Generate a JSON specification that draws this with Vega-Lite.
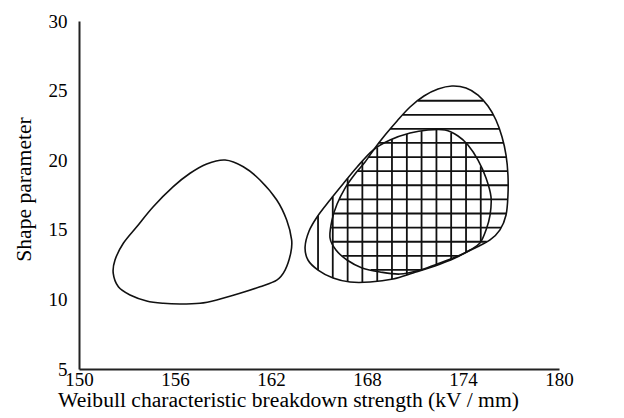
{
  "$schema": "https://vega.github.io/schema/vega-lite/v6.json",
  "width": 480,
  "height": 348,
  "autosize": "none",
  "padding": {"left": 79, "top": 21, "right": 65, "bottom": 49},
  "background": "white",
  "config": {"view": {"stroke": null}},
  "datasets": {
    "contours": [
      {"c": "L", "i": 1, "x": 159.13, "y": 20.01},
      {"c": "L", "i": 2, "x": 160.27, "y": 19.53},
      {"c": "L", "i": 3, "x": 161.31, "y": 18.58},
      {"c": "L", "i": 4, "x": 162.36, "y": 17.14},
      {"c": "L", "i": 5, "x": 162.98, "y": 15.70},
      {"c": "L", "i": 6, "x": 163.29, "y": 14.27},
      {"c": "L", "i": 7, "x": 163.23, "y": 13.31},
      {"c": "L", "i": 8, "x": 162.88, "y": 12.11},
      {"c": "L", "i": 9, "x": 162.36, "y": 11.39},
      {"c": "L", "i": 10, "x": 161.31, "y": 10.91},
      {"c": "L", "i": 11, "x": 160.06, "y": 10.44},
      {"c": "L", "i": 12, "x": 158.61, "y": 9.96},
      {"c": "L", "i": 13, "x": 157.56, "y": 9.72},
      {"c": "L", "i": 14, "x": 156.31, "y": 9.67},
      {"c": "L", "i": 15, "x": 155.27, "y": 9.72},
      {"c": "L", "i": 16, "x": 154.23, "y": 9.89},
      {"c": "L", "i": 17, "x": 153.19, "y": 10.32},
      {"c": "L", "i": 18, "x": 152.46, "y": 10.91},
      {"c": "L", "i": 19, "x": 152.14, "y": 11.87},
      {"c": "L", "i": 20, "x": 152.25, "y": 12.83},
      {"c": "L", "i": 21, "x": 152.77, "y": 14.03},
      {"c": "L", "i": 22, "x": 153.61, "y": 15.22},
      {"c": "L", "i": 23, "x": 154.64, "y": 16.66},
      {"c": "L", "i": 24, "x": 155.89, "y": 18.10},
      {"c": "L", "i": 25, "x": 156.94, "y": 19.06},
      {"c": "L", "i": 26, "x": 157.98, "y": 19.73},
      {"c": "V", "i": 1, "x": 164.13, "y": 13.76},
      {"c": "V", "i": 2, "x": 164.38, "y": 14.91},
      {"c": "V", "i": 3, "x": 164.88, "y": 15.92},
      {"c": "V", "i": 4, "x": 165.69, "y": 17.14},
      {"c": "V", "i": 5, "x": 166.5, "y": 18.29},
      {"c": "V", "i": 6, "x": 167.38, "y": 19.51},
      {"c": "V", "i": 7, "x": 168.38, "y": 20.73},
      {"c": "V", "i": 8, "x": 169.44, "y": 21.45},
      {"c": "V", "i": 9, "x": 170.69, "y": 21.95},
      {"c": "V", "i": 10, "x": 171.81, "y": 22.17},
      {"c": "V", "i": 11, "x": 172.88, "y": 22.17},
      {"c": "V", "i": 12, "x": 173.69, "y": 21.74},
      {"c": "V", "i": 13, "x": 174.31, "y": 21.09},
      {"c": "V", "i": 14, "x": 174.94, "y": 20.01},
      {"c": "V", "i": 15, "x": 175.44, "y": 18.72},
      {"c": "V", "i": 16, "x": 175.75, "y": 17.36},
      {"c": "V", "i": 17, "x": 175.69, "y": 16.06},
      {"c": "V", "i": 18, "x": 175.44, "y": 14.99},
      {"c": "V", "i": 19, "x": 175.06, "y": 14.05},
      {"c": "V", "i": 20, "x": 174.44, "y": 13.55},
      {"c": "V", "i": 21, "x": 173.5, "y": 12.97},
      {"c": "V", "i": 22, "x": 172.25, "y": 12.40},
      {"c": "V", "i": 23, "x": 170.88, "y": 11.90},
      {"c": "V", "i": 24, "x": 169.63, "y": 11.47},
      {"c": "V", "i": 25, "x": 168.19, "y": 11.25},
      {"c": "V", "i": 26, "x": 166.94, "y": 11.25},
      {"c": "V", "i": 27, "x": 165.88, "y": 11.54},
      {"c": "V", "i": 28, "x": 164.94, "y": 12.11},
      {"c": "V", "i": 29, "x": 164.31, "y": 12.83},
      {"c": "H", "i": 1, "x": 165.69, "y": 14.41},
      {"c": "H", "i": 2, "x": 165.81, "y": 15.70},
      {"c": "H", "i": 3, "x": 166.13, "y": 16.85},
      {"c": "H", "i": 4, "x": 166.63, "y": 18.00},
      {"c": "H", "i": 5, "x": 167.25, "y": 19.01},
      {"c": "H", "i": 6, "x": 167.88, "y": 19.87},
      {"c": "H", "i": 7, "x": 168.5, "y": 20.88},
      {"c": "H", "i": 8, "x": 169.13, "y": 21.81},
      {"c": "H", "i": 9, "x": 169.88, "y": 22.82},
      {"c": "H", "i": 10, "x": 170.69, "y": 23.82},
      {"c": "H", "i": 11, "x": 171.56, "y": 24.61},
      {"c": "H", "i": 12, "x": 172.44, "y": 25.11},
      {"c": "H", "i": 13, "x": 173.31, "y": 25.33},
      {"c": "H", "i": 14, "x": 174.19, "y": 25.19},
      {"c": "H", "i": 15, "x": 174.94, "y": 24.68},
      {"c": "H", "i": 16, "x": 175.56, "y": 23.89},
      {"c": "H", "i": 17, "x": 176.06, "y": 22.89},
      {"c": "H", "i": 18, "x": 176.44, "y": 21.67},
      {"c": "H", "i": 19, "x": 176.69, "y": 20.37},
      {"c": "H", "i": 20, "x": 176.81, "y": 18.94},
      {"c": "H", "i": 21, "x": 176.81, "y": 17.50},
      {"c": "H", "i": 22, "x": 176.69, "y": 16.06},
      {"c": "H", "i": 23, "x": 176.31, "y": 14.99},
      {"c": "H", "i": 24, "x": 175.69, "y": 14.27},
      {"c": "H", "i": 25, "x": 174.75, "y": 13.69},
      {"c": "H", "i": 26, "x": 173.69, "y": 13.12},
      {"c": "H", "i": 27, "x": 172.56, "y": 12.61},
      {"c": "H", "i": 28, "x": 171.31, "y": 12.11},
      {"c": "H", "i": 29, "x": 170.06, "y": 11.82},
      {"c": "H", "i": 30, "x": 168.81, "y": 11.97},
      {"c": "H", "i": 31, "x": 167.69, "y": 12.26},
      {"c": "H", "i": 32, "x": 166.75, "y": 12.83},
      {"c": "H", "i": 33, "x": 166.06, "y": 13.55}
    ],
    "hhatch": [
      {"y": 24.27, "x1": 171.19, "x2": 175.26},
      {"y": 23.26, "x1": 170.24, "x2": 175.88},
      {"y": 22.25, "x1": 169.45, "x2": 176.26},
      {"y": 21.24, "x1": 168.74, "x2": 176.52},
      {"y": 20.22, "x1": 168.09, "x2": 176.70},
      {"y": 19.21, "x1": 167.39, "x2": 176.79},
      {"y": 18.20, "x1": 166.74, "x2": 176.81},
      {"y": 17.18, "x1": 166.27, "x2": 176.79},
      {"y": 16.17, "x1": 165.94, "x2": 176.70},
      {"y": 15.16, "x1": 165.76, "x2": 176.38},
      {"y": 14.14, "x1": 165.81, "x2": 175.49},
      {"y": 13.13, "x1": 166.46, "x2": 173.71},
      {"y": 12.12, "x1": 168.23, "x2": 171.33}
    ],
    "vhatch": [
      {"x": 164.94, "y1": 16.01, "y2": 12.11},
      {"x": 165.86, "y1": 17.39, "y2": 11.54},
      {"x": 166.79, "y1": 18.69, "y2": 11.29},
      {"x": 167.71, "y1": 19.92, "y2": 11.25},
      {"x": 168.64, "y1": 20.91, "y2": 11.31},
      {"x": 169.56, "y1": 21.50, "y2": 11.46},
      {"x": 170.49, "y1": 21.88, "y2": 11.76},
      {"x": 171.41, "y1": 22.09, "y2": 12.09},
      {"x": 172.34, "y1": 22.17, "y2": 12.44},
      {"x": 173.26, "y1": 21.96, "y2": 12.87},
      {"x": 174.19, "y1": 21.22, "y2": 13.40},
      {"x": 175.11, "y1": 19.56, "y2": 14.17}
    ]
  },
  "layer": [
    {
      "data": {"name": "hhatch"},
      "mark": {"type": "rule", "color": "#111", "strokeWidth": 1.8},
      "encoding": {
        "y": {"field": "y", "type": "quantitative", "scale": {"domain": [5, 30], "nice": false, "zero": false}},
        "x": {"field": "x1", "type": "quantitative", "scale": {"domain": [150, 180], "nice": false, "zero": false}},
        "x2": {"field": "x2"}
      }
    },
    {
      "data": {"name": "vhatch"},
      "mark": {"type": "rule", "color": "#111", "strokeWidth": 1.8},
      "encoding": {
        "x": {"field": "x", "type": "quantitative"},
        "y": {"field": "y1", "type": "quantitative"},
        "y2": {"field": "y2"}
      }
    },
    {
      "data": {"name": "contours"},
      "mark": {"type": "line", "color": "#111", "strokeWidth": 1.6, "interpolate": "cardinal-closed"},
      "encoding": {
        "x": {
          "field": "x", "type": "quantitative",
          "axis": {
            "values": [150, 156, 162, 168, 174, 180],
            "ticks": false, "grid": false,
            "domainColor": "#222", "domainWidth": 2,
            "labelFont": "Liberation Serif", "labelFontSize": 19, "labelColor": "#000",
            "labelPadding": 1, "labelDx": -3, "labelFlush": false,
            "title": "Weibull characteristic breakdown strength (kV / mm)",
            "titleFont": "Liberation Serif", "titleFontSize": 21.6, "titleFontWeight": "normal", "titleColor": "#000",
            "titleX": 209, "titleY": 37, "titleAlign": "center", "titleBaseline": "alphabetic"
          }
        },
        "y": {
          "field": "y", "type": "quantitative",
          "axis": {
            "values": [5, 10, 15, 20, 25, 30],
            "ticks": false, "grid": false,
            "domainColor": "#222", "domainWidth": 2,
            "labelFont": "Liberation Serif", "labelFontSize": 19, "labelColor": "#000",
            "labelPadding": 12, "labelFlush": false,
            "title": "Shape parameter",
            "titleFont": "Liberation Serif", "titleFontSize": 21.6, "titleFontWeight": "normal", "titleColor": "#000",
            "titleX": -55, "titleY": 168, "titleAngle": -90, "titleAlign": "center", "titleBaseline": "middle"
          }
        },
        "detail": {"field": "c"},
        "order": {"field": "i", "type": "quantitative"}
      }
    }
  ]
}
